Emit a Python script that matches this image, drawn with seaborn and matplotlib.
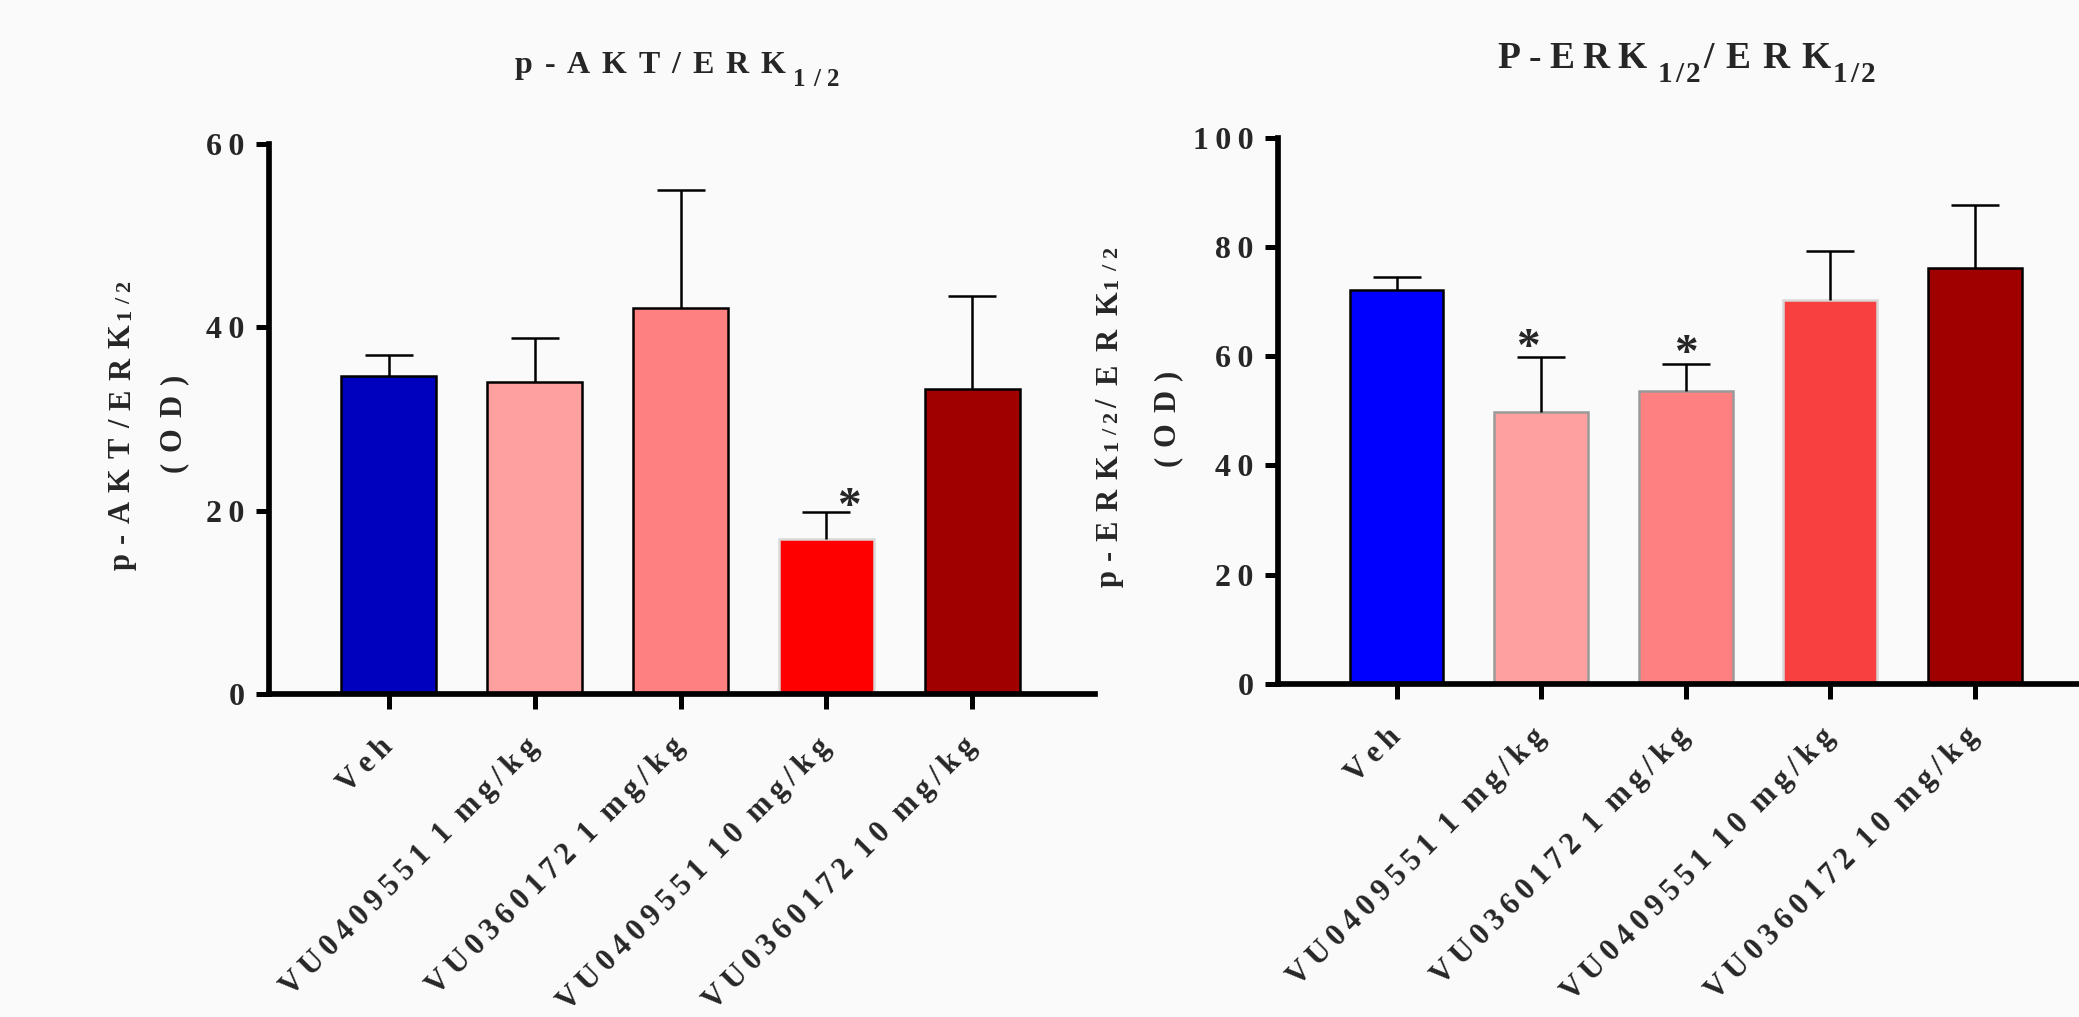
import matplotlib
matplotlib.use("Agg")
import matplotlib.pyplot as plt
import matplotlib.transforms as mtransforms
import seaborn as sns
import pandas as pd

# ---------------- data ----------------
categories = ["Veh", "VU0409551 1 mg/kg", "VU0360172 1 mg/kg",
              "VU0409551 10 mg/kg", "VU0360172 10 mg/kg"]
akt_mean = [34.7, 34.0, 42.1, 16.9, 33.3]
akt_err = [2.3, 4.8, 12.9, 2.9, 10.1]
akt_star_y = [None, None, None, 21.5, None]
erk_mean = [72.1, 49.7, 53.7, 70.3, 76.1]
erk_err = [2.4, 10.2, 4.9, 8.9, 11.5]
erk_star_y = [None, 63.4, 62.2, None, None]
akt_yticks = [0, 20, 40, 60]
erk_yticks = [0, 20, 40, 60, 80, 100]

akt_colors = ["#0000BF", "#FFA0A0", "#FF8080", "#FF0000", "#A00000"]
erk_colors = ["#0000FF", "#FFA0A0", "#FF8080", "#F84040", "#A00000"]
akt_edges = ["black", "black", "black", "#D8D8D8", "black"]
erk_edges = ["black", "#9A9A9A", "#9A9A9A", "#D8D8D8", "black"]

BG = "#FAFAFA"
FAM = ["Liberation Serif", "DejaVu Serif"]
HAIR = "\u200a"
THIN = "\u2009"
EN = "\u2002"


def tick_spaced(s, gap=THIN, word=EN):
    words = s.split(" ")
    return word.join(gap.join(w) for w in words)


sns.set_theme(style="white")
plt.rcParams["font.family"] = FAM
plt.rcParams["font.weight"] = "bold"

W, H = 2079, 1017
fig = plt.figure(figsize=(W / 100, H / 100), dpi=100, facecolor=BG)
renderer = fig.canvas.get_renderer()
IDT = mtransforms.IdentityTransform()


def rect(x0, x1, ytop, ybot):
    return [x0 / W, 1 - ybot / H, (x1 - x0) / W, (ybot - ytop) / H]


def char_width(ch, fs):
    t = fig.text(0, 0, ch, fontsize=fs, fontweight="bold", family=FAM)
    w = t.get_window_extent(renderer).width
    t.remove()
    return w


def spaced_run(text, fs, start, end, base, vertical=False):
    """Place text letter by letter between start and end (pixels, image coords)."""
    widths = [char_width(c, fs) for c in text]
    n = len(text)
    gap = (abs(end - start) - sum(widths)) / (n - 1) if n > 1 else 0
    pos = 0.0
    for c, w in zip(text, widths):
        if vertical:
            fig.text(base, H - start + pos, c, fontsize=fs, fontweight="bold",
                     family=FAM, rotation=90, rotation_mode="anchor",
                     ha="left", va="baseline", transform=IDT)
        else:
            fig.text(start + pos, H - base, c, fontsize=fs, fontweight="bold",
                     family=FAM, ha="left", va="baseline", transform=IDT)
        pos += w + gap


ax1 = fig.add_axes(rect(269, 1095, 143.7, 694))
ax2 = fig.add_axes(rect(1278, 2096, 137.7, 684))

FS = 22
SPINE_LW = 4.1


def panel(ax, means, errs, star_y, star_dx, colors, edges, yticks):
    ax.set_facecolor(BG)
    df = pd.DataFrame({"cat": categories, "val": means})
    sns.barplot(data=df, x="cat", y="val", hue="cat", palette=colors,
                legend=False, width=0.65, saturation=1, ax=ax, errorbar=None)
    for p, ec in zip(ax.patches, edges):
        p.set_edgecolor(ec)
        p.set_linewidth(1.8)
    xs = list(range(len(categories)))
    _, caps, _ = ax.errorbar(xs, means, yerr=[[0] * len(errs), errs], fmt="none",
                             ecolor="black", elinewidth=1.8, capsize=17,
                             capthick=1.8, zorder=1)
    caps[0].set_visible(False)
    for i, sy in enumerate(star_y):
        if sy is not None:
            ax.annotate("*", xy=(i + star_dx[i], sy), xytext=(0, -16),
                        textcoords="offset points", ha="center", va="baseline",
                        fontsize=34, fontweight="bold")
    ax.set_ylim(yticks[0], yticks[-1])
    ax.set_xlim(-0.82, len(categories) - 1 + 0.84)
    ax.set_yticks(yticks)
    ax.set_yticklabels([THIN.join(str(t)) for t in yticks], fontsize=23,
                       fontweight="bold")
    ax.set_xticks(xs)
    ax.set_xticklabels([tick_spaced(c) for c in categories], rotation=45, ha="right",
                       va="center", rotation_mode="anchor", fontsize=FS,
                       fontweight="bold")
    ax.set_xlabel("")
    ax.set_ylabel("")
    for side in ["top", "right"]:
        ax.spines[side].set_visible(False)
    for side in ["left", "bottom"]:
        ax.spines[side].set_linewidth(SPINE_LW)
        ax.spines[side].set_color("black")
    ax.tick_params(axis="y", length=9.5, width=3.6, color="black", pad=8,
                   left=True)
    ax.tick_params(axis="x", length=11, width=3.6, color="black", pad=24,
                   bottom=True)


panel(ax1, akt_mean, akt_err, akt_star_y, [0, 0, 0, 0.15, 0],
      akt_colors, akt_edges, akt_yticks)
panel(ax2, erk_mean, erk_err, erk_star_y, [0, -0.09, 0, 0, 0],
      erk_colors, erk_edges, erk_yticks)

# ---- titles (letter-spaced, with subscripts) ----
spaced_run("p-AKT/ERK", 23, 515, 785, 73.3)
spaced_run("1/2", 18, 793, 840, 86)
spaced_run("P-ERK", 27, 1497, 1647, 68.3)
spaced_run("1/2", 21, 1658, 1700, 81.7)
spaced_run("/ERK", 27, 1703, 1830, 68.3)
spaced_run("1/2", 21, 1833, 1875, 81.7)

# ---- y-axis labels (vertical, letter-spaced) ----
spaced_run("p-AKT/ERK", 22, 570, 324, 130, vertical=True)
spaced_run("1/2", 16, 320, 281, 130, vertical=True)
spaced_run("(OD)", 22, 472, 374, 181, vertical=True)

spaced_run("p-ERK", 22, 587, 455, 1117, vertical=True)
spaced_run("1/2", 16, 451, 412, 1117, vertical=True)
spaced_run("/ERK", 22, 408, 291, 1117, vertical=True)
spaced_run("1/2", 16, 289, 247, 1117, vertical=True)
spaced_run("(OD)", 22, 466, 370, 1175, vertical=True)

fig.savefig("out.png", dpi=100, facecolor=BG)
